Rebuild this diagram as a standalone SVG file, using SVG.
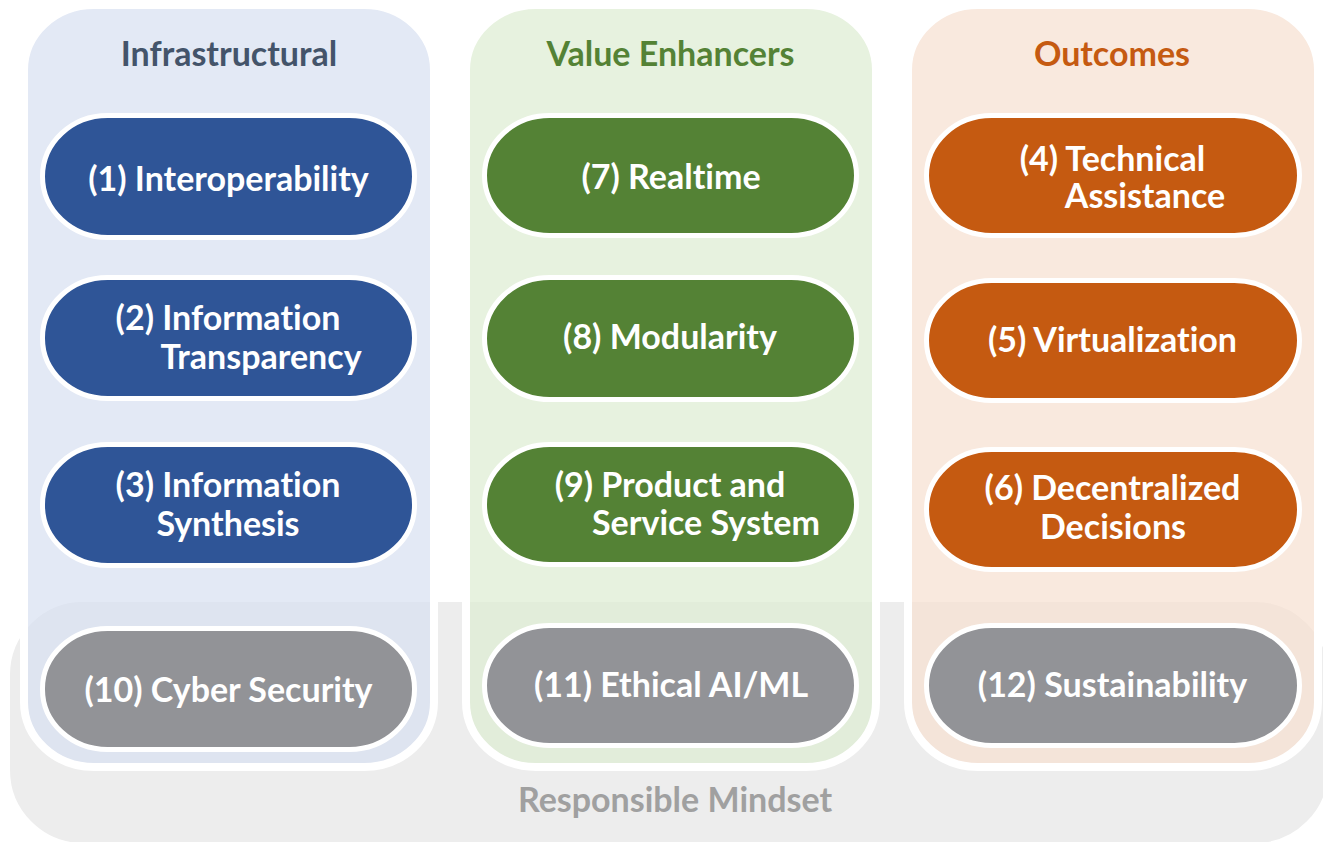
<svg xmlns="http://www.w3.org/2000/svg" width="1323" height="842" viewBox="0 0 1323 842">
  <style>
    .band { fill: #EDEDED; stroke: #FFFFFF; stroke-width: 4; }
    .col { stroke: #FFFFFF; stroke-width: 8; fill-opacity: 0.7; }
    .colB { fill: #D7E0F1; }
    .colG { fill: #DDEDD2; }
    .colO { fill: #F7E0D0; }
    .pill { stroke: #FFFFFF; stroke-width: 5; }
    .pB { fill: #2F5597; }
    .pG { fill: #548235; }
    .pO { fill: #C55A11; }
    .pX { fill: #929397; }
    text { font-family: Lato, "Open Sans", "Liberation Sans", sans-serif; font-weight: 700; font-size: 34px; text-anchor: middle; font-variant-ligatures: none; font-feature-settings: "liga" 0, "dlig" 0; }
    .lbl { fill: #FFFFFF; }
    .hB { fill: #44546A; }
    .hG { fill: #548235; }
    .hO { fill: #C55A11; }
    .hX { fill: #A0A0A0; }
  </style>

  <g id="responsible-mindset">
    <rect class="band" x="8" y="600" width="1322" height="245" rx="75" ry="75"/>
  </g>

  <g id="col-infrastructural">
    <rect class="col colB" x="24" y="5" width="410" height="762" rx="70" ry="65"/>
    <text class="hB" x="229" y="66">Infrastructural</text>
  </g>
  <g id="col-value-enhancers">
    <rect class="col colG" x="466" y="5" width="410" height="762" rx="70" ry="65"/>
    <text class="hG" x="670.5" y="66">Value Enhancers</text>
  </g>
  <g id="col-outcomes">
    <rect class="col colO" x="908" y="5" width="410" height="762" rx="70" ry="65"/>
    <text class="hO" x="1112" y="66">Outcomes</text>
  </g>

  <g id="connectors"></g>

  <g id="node-1">
    <rect class="pill pB" x="42.5" y="115.5" width="372" height="122" rx="65" ry="61"/>
    <text class="lbl" x="228.5" y="191">(1) Interoperability</text>
  </g>
  <g id="node-2">
    <rect class="pill pB" x="42.5" y="277.5" width="372" height="121" rx="65" ry="60"/>
    <text class="lbl" x="228" y="330">(2) Information</text>
    <text class="lbl" x="261" y="369">Transparency</text>
  </g>
  <g id="node-3">
    <rect class="pill pB" x="42.5" y="444.5" width="372" height="121" rx="65" ry="60"/>
    <text class="lbl" x="228" y="497">(3) Information</text>
    <text class="lbl" x="228" y="536">Synthesis</text>
  </g>
  <g id="node-10">
    <rect class="pill pX" x="42.5" y="628.5" width="372" height="121" rx="65" ry="60"/>
    <text class="lbl" x="228.5" y="702">(10) Cyber Security</text>
  </g>

  <g id="node-7">
    <rect class="pill pG" x="484.5" y="115.5" width="372" height="120" rx="65" ry="60"/>
    <text class="lbl" x="671" y="189">(7) Realtime</text>
  </g>
  <g id="node-8">
    <rect class="pill pG" x="484.5" y="277.5" width="372" height="122" rx="65" ry="61"/>
    <text class="lbl" x="670" y="349">(8) Modularity</text>
  </g>
  <g id="node-9">
    <rect class="pill pG" x="484.5" y="444.5" width="372" height="120" rx="65" ry="60"/>
    <text class="lbl" x="670" y="497">(9) Product and</text>
    <text class="lbl" x="706" y="535">Service System</text>
  </g>
  <g id="node-11">
    <rect class="pill pX" x="484.5" y="625.5" width="372" height="120" rx="65" ry="60"/>
    <text class="lbl" x="671" y="697">(11) Ethical AI/ML</text>
  </g>

  <g id="node-4">
    <rect class="pill pO" x="926.5" y="115.5" width="373" height="120" rx="65" ry="60"/>
    <text class="lbl" x="1112.5" y="171">(4) Technical</text>
    <text class="lbl" x="1145" y="208">Assistance</text>
  </g>
  <g id="node-5">
    <rect class="pill pO" x="926.5" y="280.5" width="373" height="120" rx="65" ry="60"/>
    <text class="lbl" x="1112.5" y="352">(5) Virtualization</text>
  </g>
  <g id="node-6">
    <rect class="pill pO" x="926.5" y="449.5" width="373" height="120" rx="65" ry="60"/>
    <text class="lbl" x="1112.5" y="500">(6) Decentralized</text>
    <text class="lbl" x="1113" y="539">Decisions</text>
  </g>
  <g id="node-12">
    <rect class="pill pX" x="926.5" y="625.5" width="373" height="120" rx="65" ry="60"/>
    <text class="lbl" x="1112.5" y="697">(12) Sustainability</text>
  </g>

  <g id="band-label">
    <text class="hX" x="675" y="812">Responsible Mindset</text>
  </g>
</svg>
